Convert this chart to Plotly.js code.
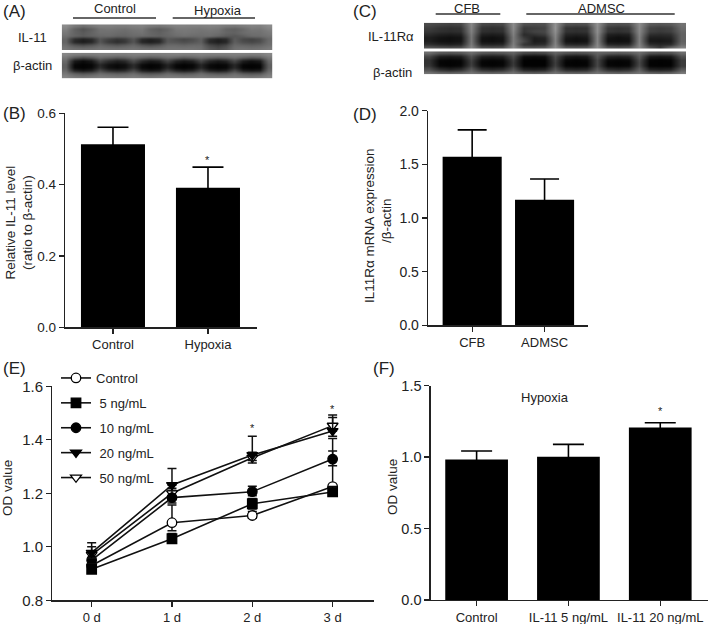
<!DOCTYPE html>
<html>
<head>
<meta charset="utf-8">
<script src="https://cdn.plot.ly/plotly-3.0.1.min.js"></script>
<style>html,body{margin:0;padding:0;background:#fff}</style>
</head>
<body>
<div id="chart" style="width:709px;height:624px"></div>
<script>
// Panel B
const catsB = ["Control", "Hypoxia"];
const valsB = [0.513, 0.391];
const errB = [0.048, 0.058];
// Panel D
const catsD = ["CFB", "ADMSC"];
const valsD = [1.571, 1.171];
const errD = [0.25, 0.192];
// Panel F
const catsF = ["Control", "IL-11 5 ng/mL", "IL-11 20 ng/mL"];
const valsF = [0.984, 1.003, 1.208];
const errF = [0.059, 0.086, 0.033];
// Panel E
const days = ["0 d", "1 d", "2 d", "3 d"];
const namesE = ["Control", "\u00a05 ng/mL", "\u00a010 ng/mL", "\u00a020 ng/mL", "\u00a050 ng/mL"];
const ctrlE = [0.93, 1.09, 1.117, 1.225];
const ng5E = [0.916, 1.03, 1.161, 1.205];
const ng10E = [0.95, 1.184, 1.206, 1.328];
const ng20E = [0.978, 1.231, 1.343, 1.433];
const ng50E = [0.97, 1.2, 1.333, 1.453];
const ctrlUp = [0.03, 0.066, 0.015, 0.18];
const ctrlDn = [0.02, 0.03, 0.01, 0.015];
const ng5Up = [0.02, 0.02, 0.02, 0.02];
const ng5Dn = [0.01, 0.015, 0.02, 0.015];
const ng10Up = [0.03, 0.035, 0.02, 0.03];
const ng10Dn = [0.02, 0.02, 0.015, 0.025];
const ng20Up = [0.037, 0.062, 0.07, 0.05];
const ng20Dn = [0.02, 0.02, 0.02, 0.02];
const ng50Up = [0.03, 0.03, 0.02, 0.04];
const ng50Dn = [0.02, 0.02, 0.02, 0.02];
// Blot band densities (grey level by lane and row)
const blotAtop = [
[140,122,112,120,128,128,125,125,128,130,122,118,124,130,130,128,128,130,128,122,120,125,130,128,140],
[130,98,82,95,115,118,115,112,118,120,98,90,100,120,122,120,118,122,118,100,96,105,120,118,130],
[120,100,90,100,112,112,108,106,112,115,102,96,105,115,118,116,113,115,112,102,98,108,113,113,122],
[112,100,92,98,104,106,100,100,106,106,102,98,102,108,112,108,108,110,100,90,86,94,106,108,115],
[100,45,32,42,85,65,52,60,85,42,32,42,88,78,70,78,95,45,32,42,92,72,65,76,105],
[100,40,28,38,85,58,45,55,85,38,30,38,90,85,78,85,95,40,30,38,95,78,72,80,108],
[108,85,75,85,102,92,85,92,102,85,75,85,105,105,100,105,105,72,58,72,105,100,96,100,112],
[118,110,108,110,115,112,110,112,115,110,108,110,115,115,115,115,112,88,78,88,112,115,112,115,122]];
const blotAbot = [
[135,128,126,126,128,128,126,126,128,128,126,126,128,130,128,128,130,128,128,128,128,128,126,126,135],
[120,92,78,88,108,100,92,98,110,100,92,98,110,102,92,100,110,100,94,100,110,98,88,95,120],
[105,26,12,24,70,46,32,42,75,42,26,34,68,36,24,34,70,38,26,36,70,30,18,28,105],
[95,8,3,7,40,18,10,16,45,12,4,8,36,10,4,8,38,12,6,10,40,8,4,8,95],
[95,8,3,8,45,16,8,16,45,10,3,8,36,8,3,8,38,10,4,8,40,6,3,6,95],
[105,36,22,32,75,46,36,44,75,32,22,28,65,36,26,34,70,34,24,32,72,30,22,28,105],
[118,95,84,90,108,100,94,98,108,90,84,88,105,95,88,94,108,94,86,90,108,90,84,88,118],
[132,122,118,122,126,124,122,122,126,122,118,122,124,124,122,122,124,122,122,122,124,122,118,122,132]];
const blotCtop = [
[75,70,66,70,135,72,68,72,140,80,78,80,145,82,78,82,145,82,78,82,140,90,85,90,115],
[62,52,48,52,132,52,48,52,138,58,62,68,148,52,48,52,142,58,52,58,138,68,62,68,108],
[55,48,44,48,128,48,44,48,132,54,68,72,142,52,48,52,142,54,48,54,136,64,58,64,102],
[42,32,28,32,122,32,28,32,128,42,50,60,136,36,32,36,136,32,28,32,132,46,42,46,98],
[30,20,15,20,118,20,15,22,122,58,30,38,132,25,18,25,132,22,15,22,128,30,30,35,98],
[30,18,15,20,118,18,15,20,122,72,28,32,128,20,15,20,132,18,15,18,128,25,22,28,98],
[48,38,32,38,122,38,36,40,128,52,42,48,132,42,38,42,136,40,36,40,132,46,38,42,108],
[88,82,78,82,132,82,78,82,136,92,88,92,140,92,88,92,140,88,82,88,136,85,58,105,132]];
const blotCbot = [
[110,90,85,90,110,90,85,90,100,75,70,75,100,85,80,85,100,95,90,95,110,85,80,85,110],
[70,30,25,30,80,32,28,32,75,15,12,15,75,25,20,25,85,35,30,35,90,25,20,25,80],
[50,8,5,8,65,10,6,10,60,3,2,3,65,8,4,8,70,10,6,10,75,5,3,5,60],
[50,5,3,5,60,5,3,5,55,2,2,2,60,4,2,4,70,5,3,5,70,3,2,3,60],
[55,10,5,10,65,10,6,10,60,5,3,5,65,8,5,8,70,10,6,10,75,5,3,5,60],
[80,45,35,45,90,45,38,45,85,35,30,35,85,40,35,40,90,45,38,45,95,35,30,35,90],
[120,110,105,110,120,110,105,110,120,105,100,105,120,108,105,108,120,110,105,110,120,105,100,105,125]];

const W = 709, H = 624;
const FONT = "Liberation Sans, Arial, sans-serif";
const INK = "#222222";
const px = x => x / W;
const py = y => 1 - y / H;

function barTrace(cats, vals, errs, hidden, xa, ya, width, cap) {
  return {
    type: "bar", x: cats, y: vals, xaxis: xa, yaxis: ya, width: width,
    marker: {color: "#000000"}, showlegend: false, hoverinfo: "skip",
    // the lower half of each whisker stays inside the black bar, as in the figure
    error_y: {type: "data", symmetric: false, array: errs, arrayminus: errs.map(() => hidden),
              color: "#000000", thickness: 1.6, width: cap}
  };
}
function lineTrace(name, rank, vals, up, dn, symbol, fill) {
  return {
    type: "scatter", mode: "lines+markers", x: days, y: vals, name: name, xaxis: "x3", yaxis: "y3",
    legendgroup: name, legendrank: rank,
    line: {color: "#111111", width: 1.6},
    marker: {symbol: symbol, size: 9.5, color: fill, line: {color: "#000000", width: 1.3}},
    error_y: {type: "data", symmetric: false, array: up, arrayminus: dn, color: "#111111", thickness: 1.5, width: 4.5},
    hoverinfo: "skip", cliponaxis: false
  };
}
function blotTrace(z, xa, ya) {
  return {type: "heatmap", z: z, xaxis: xa, yaxis: ya, zmin: 0, zmax: 255, zsmooth: "best",
          colorscale: [[0, "#000000"], [1, "#ffffff"]], showscale: false, hoverinfo: "skip"};
}

const data = [
  blotTrace(blotAtop, "x5", "y5"),
  blotTrace(blotAbot, "x6", "y6"),
  blotTrace(blotCtop, "x7", "y7"),
  blotTrace(blotCbot, "x8", "y8"),
  barTrace(catsB, valsB, errB, 0.01, "x", "y", 0.674, 15.5),
  barTrace(catsD, valsD, errD, 0.04, "x2", "y2", 0.816, 14.5),
  lineTrace(namesE[4], 5, ng50E, ng50Up, ng50Dn, "triangle-down", "#ffffff"),
  lineTrace(namesE[0], 1, ctrlE, ctrlUp, ctrlDn, "circle", "#ffffff"),
  lineTrace(namesE[2], 3, ng10E, ng10Up, ng10Dn, "circle", "#000000"),
  lineTrace(namesE[1], 2, ng5E, ng5Up, ng5Dn, "square", "#000000"),
  lineTrace(namesE[3], 4, ng20E, ng20Up, ng20Dn, "triangle-down", "#000000"),
  barTrace(catsF, valsF, errF, 0.03, "x4", "y4", 0.683, 15.5)
];

function xAxis(l, r, range, anchor, size) {
  return {domain: [px(l), px(r)], range: range, anchor: anchor, type: "category",
    showline: true, linecolor: INK, linewidth: 1.3, ticks: "outside", ticklen: 5, tickwidth: 1.3, tickcolor: INK,
    showgrid: false, zeroline: false, tickangle: 0, tickfont: {size: size, color: INK, family: FONT}};
}
function yAxis(t, b, range, vals, txt, anchor, size) {
  return {domain: [py(b), py(t)], range: range, anchor: anchor,
    showline: true, linecolor: INK, linewidth: 1.3, ticks: "outside", ticklen: 5, tickwidth: 1.3, tickcolor: INK,
    showgrid: false, zeroline: false, tickmode: "array", tickvals: vals, ticktext: txt,
    tickfont: {size: size, color: INK, family: FONT}};
}
function hidden(domainA, domainB, anchor, rev) {
  const o = {domain: [domainA, domainB], anchor: anchor, visible: false, fixedrange: true};
  if (rev) o.autorange = "reversed";
  return o;
}
function label(text, x, y, size, anchor) {
  return {text: text, xref: "paper", yref: "paper", x: px(x), y: py(y + 1.5), xanchor: anchor || "center", yanchor: "middle",
          showarrow: false, borderpad: 0, font: {size: size || 13, color: INK, family: FONT}};
}
function vtitle(text, x, y) {
  return {text: text, xref: "paper", yref: "paper", x: px(x), y: py(y), xanchor: "center", yanchor: "middle", textangle: -90,
          showarrow: false, borderpad: 0, font: {size: 13.5, color: INK, family: FONT}};
}
function star(xa, ya, xv, yv) {
  return {text: "*", xref: xa, yref: ya, x: xv, y: yv, xanchor: "center", yanchor: "middle",
          showarrow: false, font: {size: 11, color: INK, family: FONT}};
}
function rule(x0, x1, y) {
  return {type: "line", xref: "paper", yref: "paper", x0: px(x0), x1: px(x1), y0: py(y), y1: py(y),
          line: {color: "#333333", width: 1.3}};
}

const layout = {
  width: W, height: H, margin: {l: 0, r: 0, t: 0, b: 0}, paper_bgcolor: "#ffffff", plot_bgcolor: "rgba(0,0,0,0)",
  font: {family: FONT, size: 13, color: INK},
  showlegend: true,
  legend: {x: px(56), y: py(363), xanchor: "left", yanchor: "top", bgcolor: "rgba(0,0,0,0)", borderwidth: 0,
           itemwidth: 30, tracegroupgap: 5, traceorder: "grouped", font: {size: 13, color: INK, family: FONT}},
  xaxis: xAxis(65, 257, [-0.505, 1.516], "y", 13),
  yaxis: yAxis(113.3, 327.3, [0, 0.6], [0, 0.2, 0.4, 0.6], ["0.0", "0.2", "0.4", "0.6"], "x", 13.5),
  xaxis2: xAxis(428, 588, [-0.61, 1.6], "y2", 13),
  yaxis2: yAxis(110.7, 325.3, [0, 2], [0, 0.5, 1, 1.5, 2], ["0.0", "0.5", "1.0", "1.5", "2.0"], "x2", 14),
  xaxis3: xAxis(52.3, 374, [-0.49, 3.515], "y3", 13),
  yaxis3: yAxis(386.3, 600.3, [0.8, 1.6], [0.8, 1, 1.2, 1.4, 1.6], ["0.8", "1.0", "1.2", "1.4", "1.6"], "x3", 15),
  xaxis4: xAxis(430.7, 708, [-0.5, 2.52], "y4", 13),
  yaxis4: yAxis(385.7, 600, [0, 1.5], [0, 0.5, 1, 1.5], ["0.0", "0.5", "1.0", "1.5"], "x4", 14.5),
  xaxis5: hidden(px(61.7), px(272.3), "y5"),
  yaxis5: hidden(py(50), py(24.3), "x5", true),
  xaxis6: hidden(px(61.7), px(272.3), "y6"),
  yaxis6: hidden(py(78.3), py(52.7), "x6", true),
  xaxis7: hidden(px(424), px(686.3), "y7"),
  yaxis7: hidden(py(48.7), py(22.7), "x7", true),
  xaxis8: hidden(px(424), px(686.3), "y8"),
  yaxis8: hidden(py(74.3), py(51.3), "x8", true),
  shapes: [rule(73, 156, 18), rule(172.7, 255, 18), rule(435.7, 500.3, 14), rule(526.3, 674.7, 14)],
  annotations: [
    label("(A)", 2, 10, 17, "left"), label("(B)", 2, 112, 17, "left"), label("(C)", 352, 10, 17, "left"),
    label("(D)", 352, 112.7, 17, "left"), label("(E)", 2, 367, 17, "left"), label("(F)", 372, 367, 17, "left"),
    label("Control", 115, 7.5), label("Hypoxia", 218, 8.7), label("IL-11", 32, 36), label("β-actin", 32.7, 64),
    label("CFB", 467, 7), label("ADMSC", 601.7, 7), label("IL-11Rα", 390.7, 35), label("β-actin", 392, 70.7),
    label("Hypoxia", 545.3, 395.7),
    vtitle("Relative IL-11 level<br>(ratio to β-actin)", 18.5, 223),
    vtitle("IL11Rα mRNA expression", 369, 226), vtitle("/β-actin", 386, 221),
    vtitle("OD value", 7, 488), vtitle("OD value", 392, 487),
    star("x", "y", 1, 0.47),
    star("x3", "y3", 2, 1.445), star("x3", "y3", 3, 1.515),
    star("x4", "y4", 2, 1.32)
  ]
};
Plotly.newPlot("chart", data, layout, {staticPlot: true, displayModeBar: false});
</script>
</body>
</html>
